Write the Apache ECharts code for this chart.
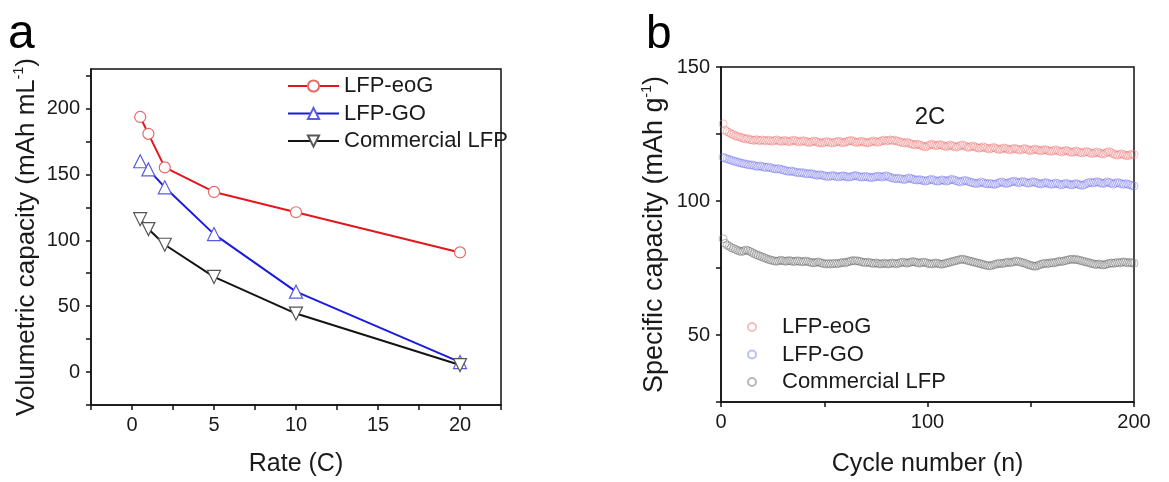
<!DOCTYPE html>
<html>
<head>
<meta charset="utf-8">
<script src="https://cdn.jsdelivr.net/npm/echarts@6/dist/echarts.min.js"></script>
<style>
  html, body { margin: 0; padding: 0; background: #fff; }
  #chart { width: 1169px; height: 482px; }
</style>
</head>
<body>
<div id="chart"></div>
<script>
// ---- (a) rate capability, volumetric capacity (mAh mL-1) ----
const rates = [0.5, 1, 2, 5, 10, 20];
const rateEoG = [193.6, 180.8, 155.3, 136.7, 121.3, 90.8];
const rateGO = [160.0, 153.8, 140.2, 104.7, 61.0, 7.6];
const rateCommercial = [116.0, 108.5, 96.6, 72.2, 44.4, 5.3];

const rateTicks = [-2.5, 0, 2.5, 5, 7.5, 10, 12.5, 15, 17.5, 20, 22.5];
const rateLabels = [0, 5, 10, 15, 20];
const volTicks = [-25, 0, 25, 50, 75, 100, 125, 150, 175, 200, 225];
const volLabels = [0, 50, 100, 150, 200];

// ---- (b) cycling at 2C, specific capacity (mAh g-1), cycles 1..200 ----
const cycleEoG = [
  128.8, 126.4, 125.9, 125.5, 125.0, 124.8, 124.3, 124.1, 123.9, 123.6, 123.4, 123.1, 123.3, 122.9, 122.8, 122.6, 122.9, 122.7, 122.5, 122.8,
  122.6, 122.4, 122.7, 122.5, 122.3, 122.6, 122.8, 122.5, 122.2, 122.4, 122.6, 122.3, 122.1, 122.4, 122.7, 122.5, 122.2, 122.0, 122.3, 122.5,
  122.2, 122.0, 121.8, 122.1, 122.4, 122.2, 121.9, 121.7, 121.6, 121.9, 122.2, 122.0, 121.8, 121.6, 121.9, 122.1, 122.3, 122.0, 121.7, 121.9,
  122.2, 122.4, 122.6, 122.3, 122.0, 121.8, 122.1, 122.3, 122.0, 121.8, 121.7, 121.9, 122.2, 122.4, 122.1, 121.9, 122.2, 122.5, 122.7, 122.4,
  122.6, 122.8, 122.5, 122.7, 122.4, 122.2, 122.0, 121.8, 121.6, 121.9, 121.6, 121.3, 121.1, 120.9, 121.2, 121.0, 120.7, 120.4, 120.2, 120.5,
  120.9, 121.2, 120.9, 120.6, 120.8, 121.1, 120.8, 120.5, 120.3, 120.6, 120.9, 120.6, 120.3, 120.1, 120.4, 120.7, 120.9, 120.6, 120.2, 120.0,
  120.3, 120.5, 120.2, 119.9, 119.7, 119.9, 120.2, 119.9, 119.6, 119.4, 119.7, 120.0, 119.7, 119.4, 119.2, 119.5, 119.8, 119.6, 119.3, 119.1,
  119.4, 119.7, 119.4, 119.2, 119.0, 119.3, 119.6, 119.3, 119.0, 118.8, 119.1, 119.4, 119.1, 118.9, 118.7, 119.0, 119.2, 118.9, 118.6, 118.5,
  118.8, 119.1, 118.8, 118.5, 118.3, 118.6, 118.9, 118.6, 118.3, 118.1, 118.4, 118.7, 118.4, 118.1, 117.9, 118.2, 118.5, 118.2, 117.9, 117.7,
  118.0, 118.3, 118.0, 117.7, 117.5, 117.8, 118.2, 118.4, 118.0, 117.6, 117.3, 117.1, 117.4, 117.6, 117.3, 117.0, 116.9, 117.2, 117.5, 117.3
];
const cycleGO = [
  116.3, 116.0, 115.7, 115.5, 115.2, 115.0, 114.7, 114.5, 114.3, 114.1, 113.9, 113.8, 113.6, 113.4, 113.5, 113.2, 113.0, 112.9, 113.1, 112.8,
  112.6, 112.5, 112.7, 112.4, 112.2, 112.0, 111.9, 112.1, 111.8, 111.6, 111.4, 111.2, 111.0, 111.2, 111.0, 110.8, 110.6, 110.5, 110.7, 110.4,
  110.2, 110.1, 110.3, 110.1, 109.9, 109.7, 109.6, 109.8, 109.6, 109.4, 109.2, 109.1, 109.3, 109.5, 109.3, 109.1, 109.0, 109.2, 109.4, 109.2,
  109.0, 108.9, 109.1, 109.3, 109.5, 109.3, 109.1, 108.9, 109.0, 109.2, 109.0, 108.8, 108.7, 108.9, 109.1, 109.3, 109.1, 108.9, 109.2, 109.4,
  109.1, 108.8, 108.6, 108.4, 108.3, 108.5, 108.3, 108.1, 108.0, 108.3, 108.6, 108.4, 108.1, 107.9, 107.8, 108.0, 107.8, 107.6, 107.4, 107.6,
  107.9, 108.1, 107.8, 107.5, 107.4, 107.6, 107.9, 107.7, 107.4, 107.6, 107.9, 108.1, 107.8, 107.5, 107.3, 107.1, 107.4, 107.7, 107.5, 107.2,
  107.0, 106.8, 106.6, 106.5, 106.8, 107.1, 106.8, 106.5, 106.4, 106.6, 106.4, 106.2, 106.3, 106.6, 106.9, 107.1, 106.8, 106.5, 106.7, 107.0,
  107.2, 107.4, 107.1, 106.8, 107.0, 107.3, 107.1, 106.8, 106.6, 106.9, 107.2, 107.0, 106.7, 106.5, 106.3, 106.6, 106.9, 106.7, 106.4, 106.2,
  106.4, 106.7, 106.5, 106.2, 106.0, 106.3, 106.6, 106.4, 106.1, 106.0, 106.3, 106.5, 106.2, 106.0, 105.8, 106.1, 106.5, 106.8, 107.0, 106.7,
  106.9, 107.2, 107.0, 106.7, 106.5, 106.8, 107.1, 106.9, 106.6, 106.3, 106.6, 106.9, 106.7, 106.4, 106.2, 106.5, 106.3, 106.0, 105.8, 105.6
];
const cycleCommercial = [
  85.9, 84.2, 83.5, 83.1, 82.6, 82.3, 81.9, 81.6, 81.3, 81.1, 81.4, 81.7, 81.5, 81.2, 80.8, 80.4, 80.0, 79.7, 79.4, 79.1,
  78.8, 78.5, 78.2, 78.0, 77.8, 77.6, 77.5, 77.7, 77.9, 77.7, 77.5, 77.6, 77.8, 77.6, 77.4, 77.5, 77.7, 77.5, 77.3, 77.4,
  77.6, 77.4, 77.2, 77.0, 76.9, 77.1, 77.3, 77.0, 76.8, 76.6, 76.5, 76.7, 76.5, 76.6, 76.8, 76.6, 76.7, 76.9, 77.1, 76.9,
  77.2, 77.4, 77.6, 77.8, 77.6, 77.7, 77.5, 77.3, 77.1, 77.0, 77.2, 77.0, 76.8, 76.7, 76.9, 76.7, 76.5, 76.6, 76.8, 76.6,
  76.5, 76.7, 76.9, 76.7, 76.5, 76.8, 77.0, 77.2, 77.0, 76.8, 77.0, 77.2, 77.4, 77.2, 77.0, 76.8, 77.0, 77.2, 77.0, 76.8,
  76.6, 76.5, 76.7, 76.9, 76.7, 76.5, 76.4, 76.6, 76.8, 77.0, 77.2, 77.4, 77.6, 77.8, 78.0, 78.2, 78.3, 78.1, 77.9, 77.7,
  77.5, 77.3, 77.1, 76.9, 76.7, 76.5, 76.3, 76.1, 75.9, 75.8, 75.9, 76.2, 76.4, 76.6, 76.8, 76.6, 76.8, 77.0, 77.2, 77.0,
  77.2, 77.4, 77.6, 77.4, 77.2, 77.0, 76.8, 76.5, 76.2, 76.0, 75.8, 75.6, 75.8, 76.1, 76.4, 76.6, 76.8, 76.6, 76.8, 77.0,
  76.9, 77.1, 77.3, 77.5, 77.4, 77.6, 77.8, 78.0, 78.2, 78.3, 78.1, 78.2, 78.0, 77.8, 77.6, 77.4, 77.2, 77.0, 76.8, 76.6,
  76.4, 76.3, 76.5, 76.3, 76.1, 76.3, 76.5, 76.7, 76.9, 76.7, 76.9, 77.1, 76.9, 77.1, 77.3, 77.1, 76.9, 77.1, 76.9, 76.8
];
const cycleTicks = [0, 50, 100, 150, 200];
const cycleLabels = [0, 100, 200];
const specTicks = [25, 50, 75, 100, 125, 150];
const specLabels = [50, 100, 150];

const FONT = 'Arial, "Liberation Sans", sans-serif';
const INK = '#1a1a1a';
const AXIS = { color: '#111', width: 1.5 };

const toPairs = (xs, ys) => ys.map((y, i) => [xs[i], y]);
const cyclePairs = ys => ys.map((y, i) => [i + 1, y]);

function rateSeries(name, values, color, symbol, rotate, border) {
  return {
    name: 'rate|' + name,
    type: 'line',
    xAxisIndex: 0, yAxisIndex: 0,
    data: toPairs(rates, values),
    symbol: symbol,
    symbolRotate: rotate,
    symbolSize: symbol === 'circle' ? 11 : 13,
    showAllSymbol: true,
    lineStyle: { color: color, width: 2 },
    itemStyle: { color: '#fff', borderColor: border, borderWidth: 1.2 },
    emphasis: { disabled: true },
    z: 3
  };
}

function cycleSeries(name, values, ring) {
  return {
    name: 'cycle|' + name,
    type: 'scatter',
    xAxisIndex: 1, yAxisIndex: 1,
    data: cyclePairs(values),
    symbol: 'circle',
    symbolSize: 8,
    itemStyle: { color: 'rgba(255,255,255,0)', borderColor: ring, borderWidth: 1 },
    emphasis: { disabled: true },
    z: 3
  };
}

function axisName(size) {
  return {
    fontSize: size, color: INK, fontFamily: FONT, lineHeight: size + 3,
    rich: { sup: { fontSize: 14, verticalAlign: 'top', lineHeight: size + 3, color: INK, fontFamily: FONT } }
  };
}

const chart = echarts.init(document.getElementById('chart'), null, { renderer: 'canvas' });

chart.setOption({
  animation: false,
  backgroundColor: '#fff',
  textStyle: { fontFamily: FONT },
  grid: [
    { left: 91, top: 69, width: 410, height: 337, show: true, borderColor: '#111', borderWidth: 1.5, backgroundColor: 'transparent' },
    { left: 721, top: 67, width: 413, height: 340, show: true, borderColor: '#111', borderWidth: 1.5, backgroundColor: 'transparent' }
  ],
  xAxis: [
    {
      gridIndex: 0, type: 'value', min: -2.5, max: 22.5,
      axisLine: { onZero: false, lineStyle: AXIS },
      axisTick: { customValues: rateTicks, length: 5, lineStyle: AXIS },
      axisLabel: { customValues: rateLabels, fontSize: 20, color: INK, margin: 10, fontFamily: FONT },
      splitLine: { show: false },
      name: 'Rate (C)', nameLocation: 'middle', nameGap: 47,
      nameTextStyle: { fontSize: 25, color: INK, fontFamily: FONT }
    },
    {
      gridIndex: 1, type: 'value', min: 0, max: 200,
      axisLine: { onZero: false, lineStyle: AXIS },
      axisTick: { customValues: cycleTicks, length: 5, lineStyle: AXIS },
      axisLabel: { customValues: cycleLabels, fontSize: 20, color: INK, margin: 10, fontFamily: FONT },
      splitLine: { show: false },
      name: 'Cycle number (n)', nameLocation: 'middle', nameGap: 50,
      nameTextStyle: { fontSize: 25, color: INK, fontFamily: FONT }
    }
  ],
  yAxis: [
    {
      gridIndex: 0, type: 'value', min: -25, max: 230,
      axisLine: { onZero: false, lineStyle: AXIS },
      axisTick: { customValues: volTicks, length: 5, lineStyle: AXIS },
      axisLabel: { customValues: volLabels, fontSize: 20, color: INK, margin: 11, fontFamily: FONT },
      splitLine: { show: false },
      name: 'Volumetric capacity (mAh mL{sup|-1})', nameLocation: 'middle', nameGap: 50,
      nameTextStyle: axisName(26)
    },
    {
      gridIndex: 1, type: 'value', min: 25, max: 150,
      axisLine: { onZero: false, lineStyle: AXIS },
      axisTick: { customValues: specTicks, length: 5, lineStyle: AXIS },
      axisLabel: { customValues: specLabels, fontSize: 20, color: INK, margin: 11, fontFamily: FONT },
      splitLine: { show: false },
      name: 'Specific capacity (mAh g{sup|-1})', nameLocation: 'middle', nameGap: 51,
      nameTextStyle: axisName(27)
    }
  ],
  legend: [
    {
      orient: 'vertical', left: 282, top: 70,
      itemWidth: 51, itemHeight: 14, itemGap: 5.5,
      data: ['rate|LFP-eoG', 'rate|LFP-GO', 'rate|Commercial LFP'],
      formatter: n => n.split('|')[1],
      textStyle: { fontSize: 22, lineHeight: 22, color: INK, fontFamily: FONT },
      selectedMode: false
    },
    {
      orient: 'vertical', left: 742, top: 311,
      itemWidth: 50, itemHeight: 8, itemGap: 5.5,
      data: ['cycle|LFP-eoG', 'cycle|LFP-GO', 'cycle|Commercial LFP'],
      formatter: n => n.split('|')[1],
      textStyle: { fontSize: 22, lineHeight: 22, color: INK, fontFamily: FONT },
      selectedMode: false
    }
  ],
  graphic: [
    { type: 'text', x: 8, y: 11, style: { text: 'a', fontSize: 48, fontFamily: FONT, fill: '#000', verticalAlign: 'top' } },
    { type: 'text', x: 646, y: 12, style: { text: 'b', fontSize: 46, fontFamily: FONT, fill: '#000', verticalAlign: 'top' } },
    { type: 'text', x: 930, y: 117, style: { text: '2C', fontSize: 24, fontFamily: FONT, fill: INK, align: 'center', verticalAlign: 'middle' } }
  ],
  series: [
    rateSeries('LFP-eoG', rateEoG, '#e3161c', 'circle', 0, '#e46a6a'),
    rateSeries('LFP-GO', rateGO, '#1b1be0', 'triangle', 0, '#5a5ae0'),
    rateSeries('Commercial LFP', rateCommercial, '#141414', 'triangle', 180, '#555'),
    cycleSeries('LFP-eoG', cycleEoG, 'rgba(236,120,120,0.6)'),
    cycleSeries('LFP-GO', cycleGO, 'rgba(120,120,236,0.6)'),
    cycleSeries('Commercial LFP', cycleCommercial, 'rgba(105,105,105,0.6)')
  ]
});
</script>
</body>
</html>
